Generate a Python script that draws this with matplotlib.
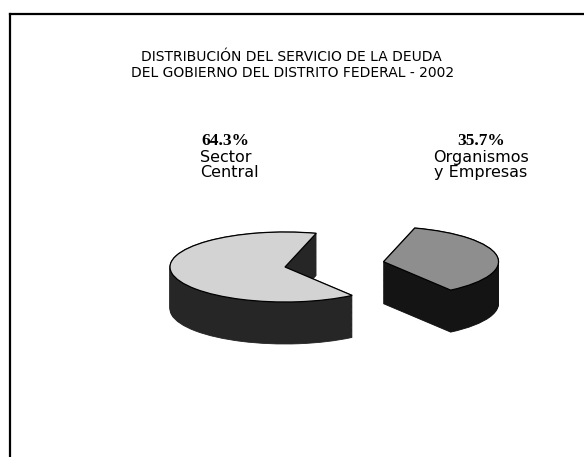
#!/usr/bin/env python

import matplotlib
matplotlib.use('Agg')
import matplotlib.pyplot as plt
import numpy as np

# datos
title_lines = ['DISTRIBUCIÓN DEL SERVICIO DE LA DEUDA',
               'DEL GOBIERNO DEL DISTRITO FEDERAL - 2002']
values = [64.3, 35.7]
pct_labels = ['64.3%', '35.7%']
name_labels = ['Sector\nCentral', 'Organismos\ny Empresas']

top_colors = ['#d3d3d3', '#8e8e8e']
side_colors = ['#262626', '#141414']
explode = [0, 0.87]
start = 74.25
depth = 1.2

W, H = 584, 457
fig = plt.figure(figsize=(W / 100, H / 100), dpi=100)
ax = fig.add_axes([0, 0, 1, 1])

# pastel 3D: capas apiladas para el costado, luego la cara superior
for d in np.linspace(depth, 0.0, 50):
    ax.pie(values, colors=side_colors, startangle=start, explode=explode,
           radius=1, center=(0, -d), counterclock=True,
           wedgeprops=dict(linewidth=0.6))
    for w, c in zip(ax.patches[-2:], side_colors):
        w.set_edgecolor(c)

ax.pie(values, colors=top_colors, startangle=start, explode=explode,
       radius=1, center=(0, 0), counterclock=True,
       wedgeprops=dict(linewidth=0.9, edgecolor='black'))

# 1 unidad = 115 px en x, 35 px en y; centro en (285, 267)
ax.set_aspect('auto')
ax.set_xlim(-285 / 115, (W - 285) / 115)
ax.set_ylim(-(H - 267) / 35, 267 / 35)
ax.axis('off')

# titulo
fig.text(291 / W, 1 - 57 / H, title_lines[0], ha='center', va='center',
         fontsize=10, family='DejaVu Sans')
fig.text(293 / W, 1 - 73 / H, title_lines[1], ha='center', va='center',
         fontsize=10, family='DejaVu Sans')

# etiquetas
fig.text(201 / W, 1 - 141 / H, pct_labels[0], ha='left', va='center',
         fontsize=12.5, fontweight='bold', family='Liberation Serif')
fig.text(200 / W, 1 - 165 / H, name_labels[0], ha='left', va='center',
         fontsize=11.5, family='DejaVu Sans', linespacing=0.95)

fig.text(481 / W, 1 - 141 / H, pct_labels[1], ha='center', va='center',
         fontsize=12.5, fontweight='bold', family='Liberation Serif')
fig.text(481 / W, 1 - 165 / H, name_labels[1], ha='center', va='center',
         fontsize=11.5, family='DejaVu Sans', linespacing=0.95)

# marco
fig.add_artist(plt.Line2D([10 / W, 1.0], [1 - 14 / H, 1 - 14 / H],
                          transform=fig.transFigure, color='black', lw=1.6))
fig.add_artist(plt.Line2D([10 / W, 10 / W], [0.0, 1 - 14 / H],
                          transform=fig.transFigure, color='black', lw=1.6))

fig.savefig('out.png', dpi=100)
